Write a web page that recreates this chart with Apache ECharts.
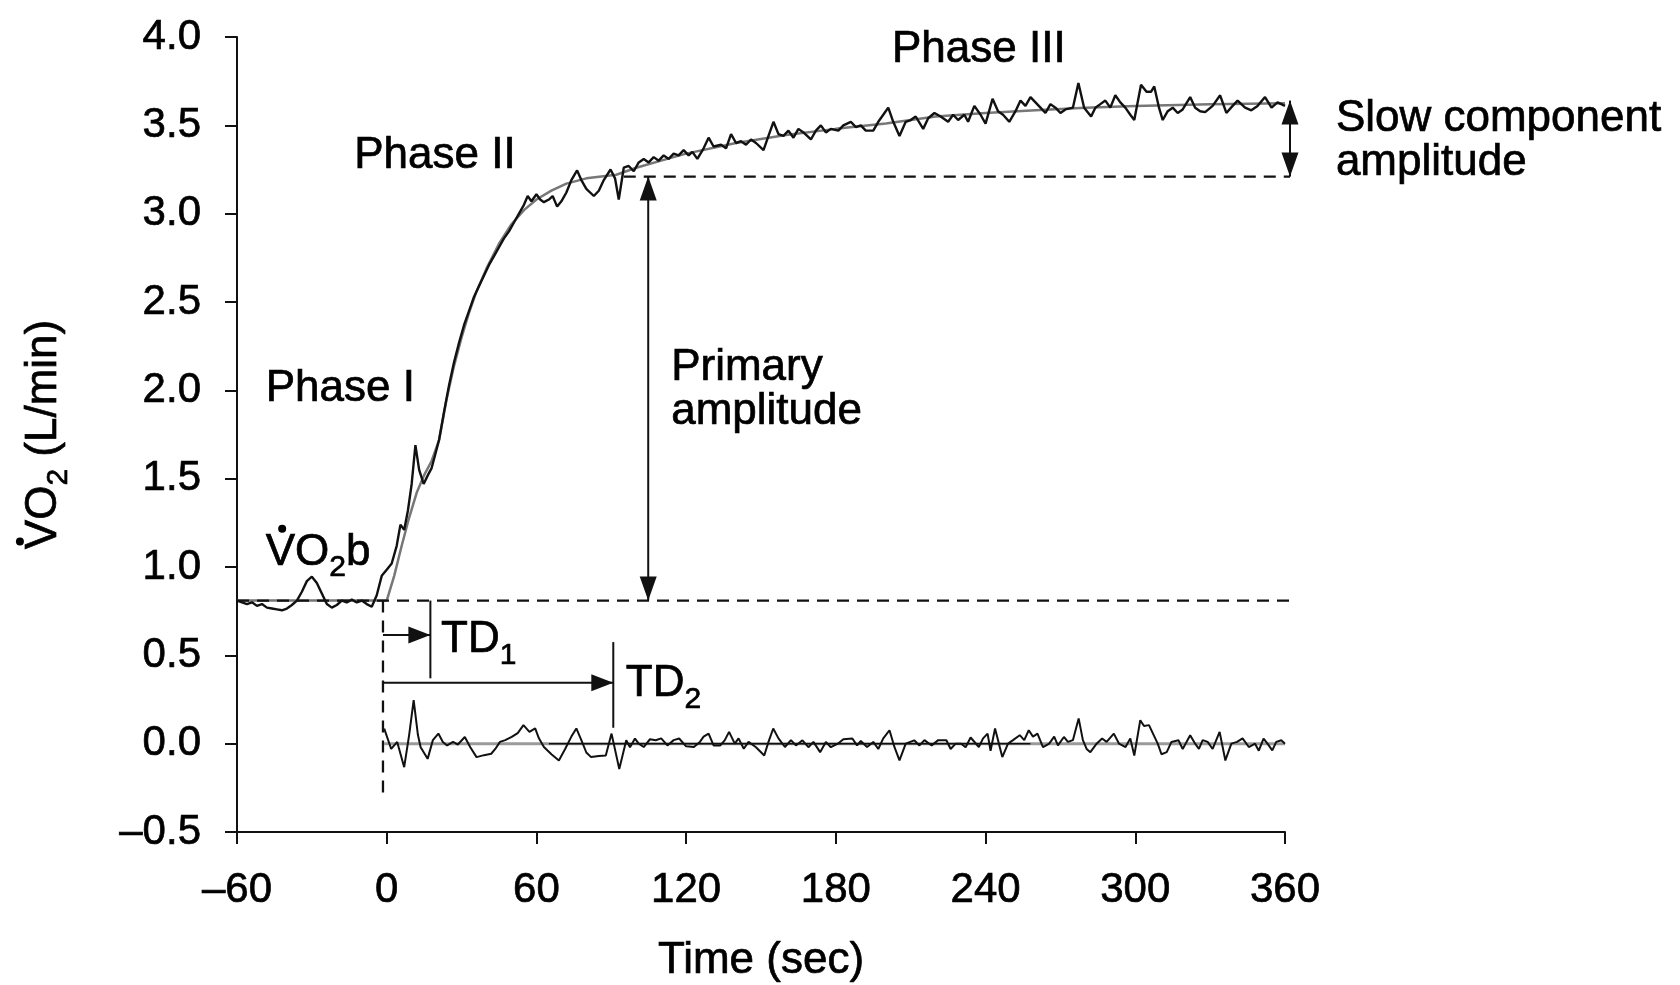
<!DOCTYPE html>
<html><head><meta charset="utf-8">
<script src="https://cdn.jsdelivr.net/npm/echarts@6/dist/echarts.min.js"></script>
<style>html,body{margin:0;padding:0;background:#fff}#c{width:1680px;height:985px}</style>
</head><body><div id="c"></div>
<script>
// ---------------- data ----------------
const timeAxis = {min: -60, max: 360, step: 60};
const vo2Axis = {min: -0.5, max: 4.0, step: 0.5};

// measured VO2 (L/min) vs time (s)
const measuredVO2 = [
[-60,0.81],[-58,0.80],[-56,0.79],[-54,0.80],[-52,0.78],[-50,0.79],[-48,0.77],[-46,0.765],[-44,0.76],[-42,0.755],
[-40,0.765],[-38,0.785],[-36,0.81],[-34,0.86],[-32,0.92],[-30,0.945],[-28,0.91],[-26,0.85],[-24,0.79],[-22,0.77],
[-20,0.785],[-18,0.81],[-16,0.80],[-14,0.815],[-12,0.80],[-10,0.81],[-8,0.79],[-6,0.775],[-4,0.84],[-2,0.95],
[0,0.985],[2,1.02],[4,1.12],[5.5,1.24],[7,1.21],[8.5,1.32],[10,1.47],[11.5,1.69],[13,1.55],[14.8,1.47],
[16.5,1.52],[18,1.56],[19.5,1.64],[21,1.72],[23,1.88],[25,2.03],[27,2.16],[29,2.27],[31,2.37],[33,2.45],
[35,2.53],[37,2.59],[39,2.65],[41,2.71],[43,2.76],[45,2.81],[47,2.86],[49,2.90],[51,2.95],[53,3.00],
[55,3.05],[56.5,3.10],[58,3.07],[60,3.11],[61.5,3.08],[63,3.065],[65,3.08],[66.5,3.10],[68.3,3.04],[70,3.07],
[72,3.12],[74,3.19],[76.3,3.245],[78,3.19],[80,3.14],[83,3.10],[85,3.13],[87,3.19],[89.7,3.25],[91.5,3.20],
[93,3.08],[95,3.26],[97,3.27],[99,3.24],[101,3.29],[103,3.31],[105,3.29],[107,3.32],[109,3.30],[111,3.33],
[113,3.31],[115,3.34],[117,3.33],[119,3.36],[121,3.33],[122.5,3.35],[124.5,3.31],[127,3.37],[129,3.43],[131,3.38],
[134,3.39],[136,3.37],[138,3.45],[140,3.40],[142,3.41],[144,3.39],[146,3.42],[148,3.40],[151,3.36],[153,3.44],
[155,3.52],[157,3.45],[159,3.44],[161,3.47],[163,3.43],[165,3.48],[167,3.46],[170,3.42],[172,3.47],[174,3.50],
[176,3.46],[178,3.48],[181,3.47],[183,3.50],[186,3.52],[188,3.49],[190,3.50],[192,3.47],[195,3.47],[197,3.52],
[199,3.56],[201,3.60],[203,3.52],[205.5,3.44],[208,3.52],[210,3.53],[212,3.55],[215,3.48],[217,3.54],[219.5,3.57],
[222,3.55],[225,3.52],[227,3.56],[229,3.53],[231.5,3.56],[233,3.52],[235.5,3.61],[238,3.56],[240,3.51],[242.8,3.65],
[245,3.58],[247,3.56],[249.5,3.52],[252,3.58],[254,3.64],[256,3.61],[258,3.66],[260,3.63],[262,3.60],[264,3.57],
[266,3.62],[268,3.60],[270,3.57],[272,3.59],[275,3.60],[277.2,3.74],[279.5,3.60],[282.3,3.55],[284,3.60],[286,3.62],
[288,3.64],[290,3.60],[292,3.67],[294,3.63],[296,3.60],[298,3.56],[299.6,3.53],[302.3,3.73],[304.5,3.69],[306.3,3.69],
[307.6,3.72],[309.5,3.60],[311,3.53],[313,3.58],[315,3.60],[317,3.57],[319,3.59],[322,3.66],[324,3.60],[326,3.58],
[328,3.575],[331,3.61],[334,3.67],[336.5,3.57],[339,3.61],[341,3.64],[344,3.60],[346.5,3.585],[349,3.61],[352,3.66],
[354.6,3.60],[357,3.63],[360,3.61]
];

// fitted model curve
const fitVO2 = [
[-60,0.81],[-30,0.81],[0,0.81],[3,0.95],[6,1.12],[9,1.28],[12,1.42],[15,1.52],[18,1.60],[21,1.72],
[24,1.95],[27,2.14],[30,2.30],[33,2.44],[36,2.56],[40,2.69],[45,2.83],[50,2.94],[55,3.02],[60,3.08],
[66,3.13],[72,3.17],[80,3.20],[92,3.22],[100,3.26],[110,3.30],[120,3.34],[140,3.40],[160,3.445],[180,3.48],
[200,3.51],[220,3.55],[240,3.57],[260,3.585],[280,3.60],[300,3.61],[330,3.62],[360,3.625]
];

// residuals (measured - fit)
const residualVO2 = [
[-1,0.085],[1.8,-0.03],[4.2,0.01],[7,-0.133],[9,0.05],[10.8,0.247],[12.5,0.05],[13.6,-0.02],[16.4,-0.086],[18.5,0.02],
[20.7,0.057],[22.5,0.01],[24.2,-0.01],[26.6,0.01],[28.5,-0.005],[31.3,0.038],[33.5,-0.02],[36,-0.076],[39,-0.065],[41.9,-0.057],
[43.5,-0.03],[45.4,0.01],[47.5,0.02],[50.1,0.038],[52.5,0.06],[54.8,0.105],[57.2,0.067],[59.5,0.086],[61,0.03],[63,-0.019],
[66,-0.06],[69,-0.095],[71.5,-0.03],[74,0.04],[76,0.086],[78,0.02],[80,-0.05],[81.9,-0.076],[85,-0.07],[87.8,-0.067],
[90.1,0.057],[93.2,-0.143],[96,0.019],[97.5,-0.02],[99.5,0.029],[101,0.0],[103,-0.019],[105.5,0.025],[107.8,0.019],[110,0.03],
[112.5,-0.01],[115,0.02],[117.2,0.029],[120,-0.015],[123.1,-0.019],[125.5,0.01],[127,0.04],[129,0.057],[131,-0.01],[133.7,-0.01],
[135.5,0.02],[137.2,0.067],[139.5,0.0],[141,0.03],[143.1,-0.029],[145,0.01],[148,-0.02],[151.3,-0.067],[153,0.01],[154.9,0.086],
[157,0.03],[159.6,-0.019],[162,0.02],[164,-0.01],[166.6,0.019],[169,-0.02],[171,0.01],[173.7,-0.048],[176,0.01],[178,-0.02],
[180.8,0.0],[183,0.025],[186.6,0.029],[188.5,-0.01],[190,0.015],[192.5,-0.019],[195,0.01],[197,-0.03],[199,0.03],[201.5,0.076],
[203.5,-0.02],[205.5,-0.095],[208,0.0],[211.4,0.019],[213.5,-0.01],[215.5,0.02],[218.4,-0.01],[221,0.02],[224.3,0.019],[226,-0.03],
[228,0.0],[230.2,0.0],[232,-0.02],[234,0.035],[237.3,-0.019],[239,0.03],[240.8,0.057],[242,-0.04],[243.8,0.086],[246.7,-0.076],
[249,0.0],[251,0.02],[253.7,0.048],[255.5,0.02],[257.3,0.076],[259,0.04],[260.8,0.057],[263,-0.02],[265.5,0.0],[267.5,0.04],
[269,-0.01],[271.4,0.038],[273,0.01],[275,0.02],[277.3,0.143],[279,0.02],[280.5,-0.03],[282,-0.048],[284.5,0.0],[286.7,0.029],
[288.5,0.01],[291.4,0.057],[293.5,0.0],[296.1,-0.019],[298,0.03],[299.6,-0.067],[302,0.133],[303.5,0.1],[305.5,0.105],[307,0.06],
[309,0.0],[310.5,-0.06],[312.6,-0.048],[314.5,0.01],[317.3,0.019],[319,-0.03],[322,0.048],[324,0.0],[325.5,-0.029],[327,0.02],
[329,0.01],[331,-0.03],[333.8,0.067],[336.1,-0.095],[338.5,0.0],[340.8,0.01],[343,0.03],[345.5,-0.019],[348,0.0],[349.5,-0.04],
[351.4,0.029],[353,0.0],[354.9,-0.038],[356.5,0.01],[358.5,0.019],[360,0.0]
];

// key model values shown by the annotations
const baselineVO2 = 0.81;      // VO2b
const primaryTopVO2 = 3.21;    // baseline + primary amplitude
const endVO2 = 3.64;           // end-exercise VO2
const onsetT = -1.5;           // exercise onset line
const td1 = 17.5, td2 = 90.8;  // time delays (s)
const primaryT = 104.8, slowT = 362, dashEndT = 362, primaryDashStartT = 95;
const residualZeroSpan = [-1, 360];
const residualDarkSpan = [65, 258];

// annotation segments: [t1, v1, t2, v2, dashed, headAtStart, headAtEnd]  (head 1 = vertical arrow, 2 = small arrow)
const segments = [
  [timeAxis.min, baselineVO2, dashEndT, baselineVO2, 1, 0, 0],
  [primaryDashStartT, primaryTopVO2, dashEndT, primaryTopVO2, 1, 0, 0],
  [onsetT, baselineVO2, onsetT, -0.28, 1, 0, 0],
  [primaryT, baselineVO2, primaryT, primaryTopVO2, 0, 1, 1],
  [slowT, primaryTopVO2, slowT, endVO2, 0, 1, 1],
  [td1, baselineVO2, td1, 0.37, 0, 0, 0],
  [onsetT, 0.615, td1, 0.615, 0, 0, 2],
  [td2, 0.575, td2, 0.09, 0, 0, 0],
  [onsetT, 0.345, td2, 0.345, 0, 0, 2]
];

// text annotations: [text, time, vo2]
const annotations = [
  ['{a|Phase I}', -48.5, 2.01],
  ['{a|Phase II}', -13, 3.33],
  ['{a|Phase III}', 202.5, 3.93],
  ['{a|VO}{s|2}{a|b}', -48.5, 1.08],
  ['{m|Primary}\n{m|amplitude}', 114, 2.0],
  ['{a|TD}{s|1}', 21.8, 0.585],
  ['{a|TD}{s|2}', 95.8, 0.336],
  ['{m|Slow component}\n{m|amplitude}', 380.4, 3.41]
];
// dots of the "V-dot" symbols (VO2b label, y-axis title)
const dotMarks = [[-41.9, 1.216], [-147, 1.145]];

// ---------------- chart ----------------
const FONT = '"Liberation Sans", Arial, Helvetica, sans-serif';
const INK = '#000';
const LINE = '#111';
const TB = {textBorderColor: '#000', textBorderWidth: 0.7};
const rich = {
  a: Object.assign({fontSize: 44, fontFamily: FONT, color: INK, lineHeight: 60}, TB),
  s: Object.assign({fontSize: 30, fontFamily: FONT, color: INK, lineHeight: 30, verticalAlign: 'bottom'}, TB),
  m: Object.assign({fontSize: 44, fontFamily: FONT, color: INK, lineHeight: 44}, TB)
};
const minus = v => (v < 0 ? '\u2013' : '');
const HEADS = {1: [17, 24], 2: [17, 22]};   // [width, length] in px

function renderSegment(params, api) {
  const p = api.coord([api.value(0), api.value(1)]);
  const q = api.coord([api.value(2), api.value(3)]);
  const dashed = api.value(4) === 1;
  const children = [{
    type: 'line',
    shape: {x1: p[0], y1: p[1], x2: q[0], y2: q[1]},
    style: {stroke: LINE, lineWidth: dashed ? 2.3 : 2, lineDash: dashed ? [12, 8] : null, fill: null}
  }];
  const dx = q[0] - p[0], dy = q[1] - p[1], L = Math.hypot(dx, dy) || 1;
  const ux = dx / L, uy = dy / L;
  function head(tip, ex, ey, kind) {
    const hw = HEADS[kind][0], hl = HEADS[kind][1];
    const bx = tip[0] - ex * hl, by = tip[1] - ey * hl;
    return {type: 'polygon',
      shape: {points: [[tip[0], tip[1]], [bx - ey * hw / 2, by + ex * hw / 2], [bx + ey * hw / 2, by - ex * hw / 2]]},
      style: {fill: LINE, stroke: null}};
  }
  if (api.value(5)) children.push(head(p, -ux, -uy, api.value(5)));
  if (api.value(6)) children.push(head(q, ux, uy, api.value(6)));
  return {type: 'group', children: children};
}

const chart = echarts.init(document.getElementById('c'), null, {renderer: 'canvas'});
chart.setOption({
  animation: false,
  backgroundColor: '#fff',
  grid: {left: 237, right: 395, top: 37, bottom: 153, containLabel: false, outerBoundsMode: 'none'},
  xAxis: {
    type: 'value', min: timeAxis.min, max: timeAxis.max, interval: timeAxis.step,
    name: 'Time (sec)', nameLocation: 'middle', nameGap: 107, nameMoveOverlap: false,
    nameTextStyle: Object.assign({fontSize: 44, fontFamily: FONT, color: INK}, TB),
    axisLine: {onZero: false, lineStyle: {color: LINE, width: 2}},
    axisTick: {show: true, length: 12, lineStyle: {color: LINE, width: 2}},
    axisLabel: Object.assign({fontSize: 42, fontFamily: FONT, color: INK, margin: 37,
      formatter: v => minus(v) + Math.abs(v)}, TB),
    splitLine: {show: false}
  },
  yAxis: {
    type: 'value', min: vo2Axis.min, max: vo2Axis.max, interval: vo2Axis.step,
    name: '{a|VO}{s|2}{a| (L/min)}', nameLocation: 'middle', nameGap: 163, nameMoveOverlap: false,
    nameTextStyle: Object.assign({fontSize: 44, fontFamily: FONT, color: INK, rich: rich}, TB),
    axisLine: {onZero: false, lineStyle: {color: LINE, width: 2}},
    axisTick: {show: true, length: 12, lineStyle: {color: LINE, width: 2}},
    axisLabel: Object.assign({fontSize: 42, fontFamily: FONT, color: INK, margin: 36,
      formatter: v => minus(v) + Math.abs(v).toFixed(1)}, TB),
    splitLine: {show: false}
  },
  series: [
    {type: 'line', name: 'fit', data: fitVO2, showSymbol: false, z: 2, silent: true,
     lineStyle: {color: '#777', width: 2.5}},
    {type: 'line', name: 'measured', data: measuredVO2, showSymbol: false, z: 3, silent: true,
     lineStyle: {color: LINE, width: 2.4}},
    {type: 'line', name: 'residual zero', data: [[residualZeroSpan[0], 0], [residualZeroSpan[1], 0]], showSymbol: false, z: 2, silent: true,
     lineStyle: {color: '#9a9a9a', width: 3}},
    {type: 'line', name: 'residual zero dark', data: [[residualDarkSpan[0], 0], [residualDarkSpan[1], 0]], showSymbol: false, z: 2, silent: true,
     lineStyle: {color: LINE, width: 1.5}},
    {type: 'line', name: 'residual', data: residualVO2, showSymbol: false, z: 3, silent: true,
     lineStyle: {color: LINE, width: 2}},
    {type: 'custom', name: 'annotation lines', data: segments, clip: false, silent: true, z: 4,
     encode: {x: [0, 2], y: [1, 3]}, renderItem: renderSegment},
    {type: 'scatter', name: 'labels', clip: false, silent: true, symbolSize: 0, z: 5,
     itemStyle: {opacity: 1, color: INK},
     data: annotations.map(a => ({value: [a[1], a[2]],
       label: Object.assign({show: true, position: 'right', distance: 0, formatter: a[0], rich: rich,
         color: INK, fontFamily: FONT, fontSize: 44}, TB)}))},
    {type: 'scatter', name: 'dots', clip: false, silent: true, symbol: 'circle', symbolSize: 8, z: 5,
     itemStyle: {color: INK, opacity: 1}, data: dotMarks}
  ]
});
</script></body></html>
